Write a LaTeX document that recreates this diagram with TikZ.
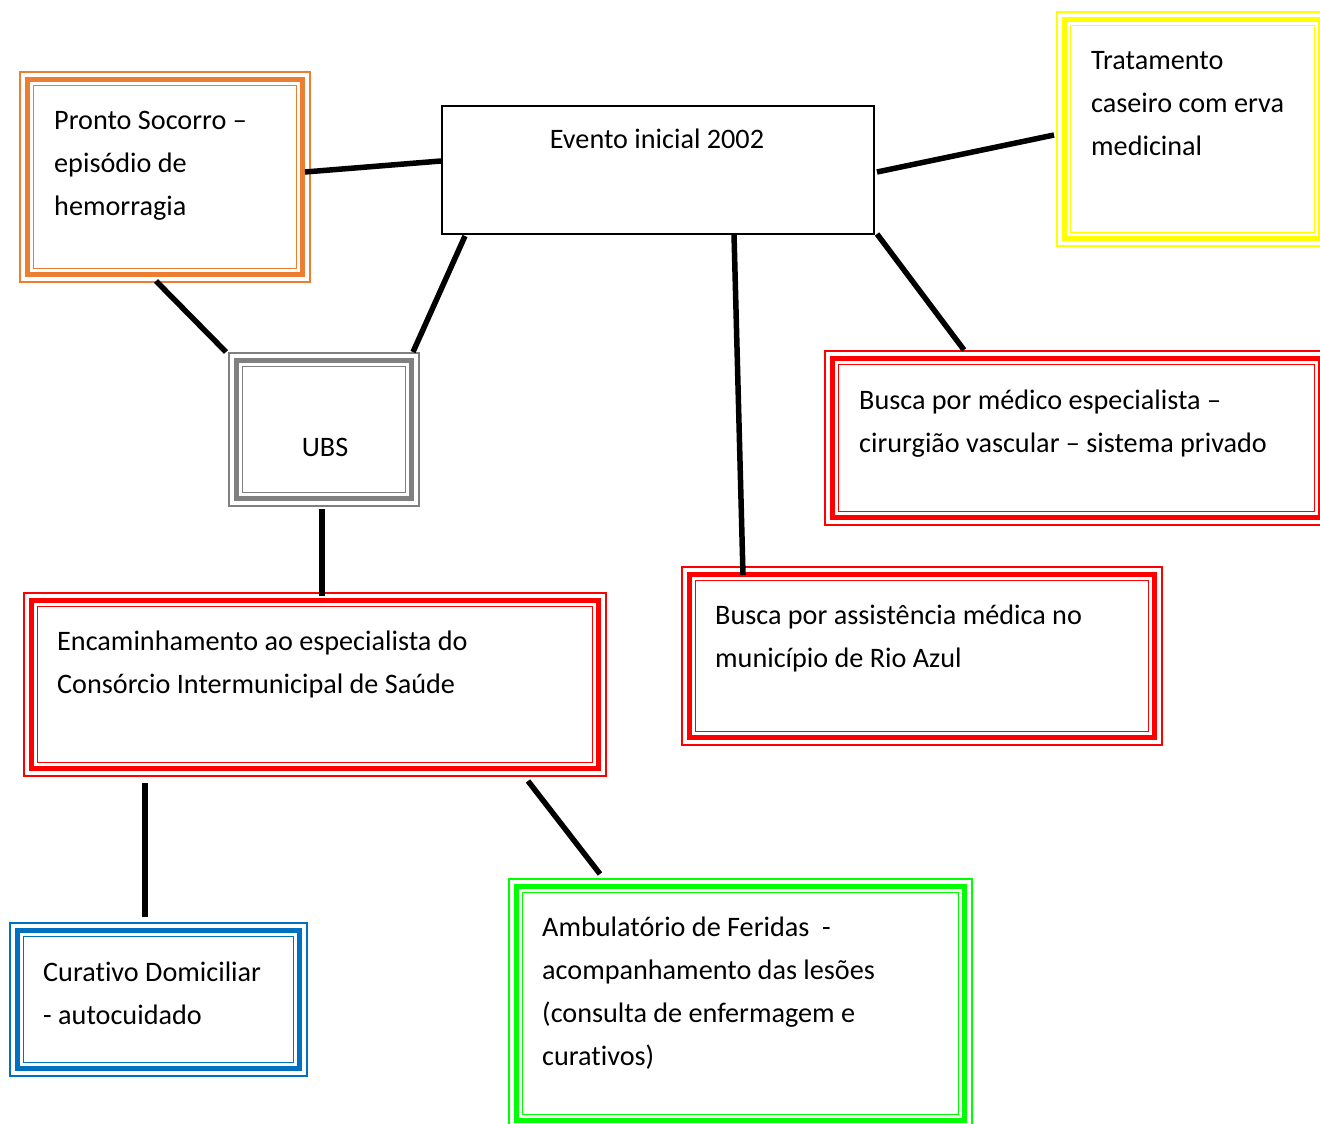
\documentclass[tikz,border=0pt]{standalone}
\usepackage{fontspec}
\setmainfont{Carlito}[Ligatures=NoCommon]
\usetikzlibrary{calc}
\definecolor{cOrange}{HTML}{ED7D31}
\definecolor{cGray}{HTML}{808080}
\definecolor{cYellow}{HTML}{FFFF00}
\definecolor{cRed}{HTML}{FF0000}
\definecolor{cBlue}{HTML}{0070C0}
\definecolor{cGreen}{HTML}{00FF00}
\newcommand\triframe[2]{%
  \draw[#2, line width=5pt] ($(#1.north west)+(7.5,7.5)$) rectangle ($(#1.south east)+(-7.5,-7.5)$);
  \draw[#2, line width=1.6pt] ($(#1.north west)+(13.5,13.5)$) rectangle ($(#1.south east)+(-13.5,-13.5)$);
}
\begin{document}
\begin{tikzpicture}[x=1pt,y=-1pt,
  framebox/.style={draw=#1, line width=2pt, anchor=north west, inner sep=0pt, outer sep=0pt},
  txt/.style={anchor=north west, inner sep=0pt, align=left, font=\fontsize{28.2}{43}\selectfont},
  ctxt/.style={anchor=base, inner sep=0pt, font=\fontsize{28.2}{43}\selectfont},
  link/.style={line width=5.5pt, black}]
\useasboundingbox (0,0) rectangle (1320,1124);
\fill[white] (0,0) rectangle (1320,1124);
\clip (0,0) rectangle (1320,1124);

% boxes
\node[framebox=cOrange, minimum width=290pt, minimum height=210pt] (ps) at (20,72) {};
\triframe{ps}{cOrange}
\node[draw=black, line width=2pt, anchor=north west, inner sep=0pt, minimum width=432pt, minimum height=128pt] (ev) at (441,105) {};
\node[framebox=cYellow, minimum width=271pt, minimum height=234pt] (tr) at (1057,12) {};
\triframe{tr}{cYellow}
\node[framebox=cGray, minimum width=190pt, minimum height=153pt] (ubs) at (229,353) {};
\triframe{ubs}{cGray}
\node[framebox=cRed, minimum width=503pt, minimum height=174pt] (bm) at (825,351) {};
\triframe{bm}{cRed}
\node[framebox=cRed, minimum width=480pt, minimum height=178pt] (ba) at (682,567) {};
\triframe{ba}{cRed}
\node[framebox=cRed, minimum width=582pt, minimum height=183pt] (en) at (24,593) {};
\triframe{en}{cRed}
\node[framebox=cBlue, minimum width=297pt, minimum height=153pt] (cd) at (10,923) {};
\triframe{cd}{cBlue}
\node[framebox=cGreen, minimum width=463pt, minimum height=249pt] (am) at (509,879) {};
\triframe{am}{cGreen}

% texts
\node[txt] (ps-t) at (54,105) {\rule{0pt}{24pt}Pronto Socorro –\\episódio de\\hemorragia};
\node[ctxt] (ev-t) at (657,148) {Evento inicial 2002};
\node[txt] (tr-t) at (1091,45) {\rule{0pt}{24pt}Tratamento\\caseiro com erva\\medicinal};
\node[ctxt] (ubs-t) at (325,456) {UBS};
\node[txt] (bm-t) at (859,385) {\rule{0pt}{24pt}Busca por médico especialista –\\cirurgião vascular – sistema privado};
\node[txt] (ba-t) at (715,600) {\rule{0pt}{24pt}Busca por assistência médica no\\município de Rio Azul};
\node[txt] (en-t) at (57,626) {\rule{0pt}{24pt}Encaminhamento ao especialista do\\Consórcio Intermunicipal de Saúde};
\node[txt] (cd-t) at (43,957) {\rule{0pt}{24pt}Curativo Domiciliar\\- autocuidado};
\node[txt] (am-t) at (542,912) {\rule{0pt}{24pt}Ambulatório de Feridas~~-\\acompanhamento das lesões\\(consulta de enfermagem e\\curativos)};

% connectors
\draw[link] ($(ps.north east)+(-5,100)$) -- ($(ev.north west)+(0,56)$);
\draw[link] ($(ev.north east)+(2,67)$) -- ($(tr.north west)+(-3,123)$);
\draw[link] ($(ps.south west)+(136,-1)$) -- ($(ubs.north west)+(-3,-1)$);
\draw[link] ($(ev.south west)+(24,1)$) -- ($(ubs.north east)+(-6,-1)$);
\draw[link] ($(ev.south west)+(293,-1)$) -- ($(ba.north west)+(61,8)$);
\draw[link] ($(ev.south east)+(2,-1)$) -- ($(bm.north west)+(139,-1)$);
\draw[link] ($(ubs.south west)+(93,3)$) -- ($(en.north west)+(298,3)$);
\draw[link] ($(en.south west)+(121,7)$) -- ($(cd.north west)+(135,-6)$);
\draw[link] ($(en.south west)+(504,5)$) -- ($(am.north west)+(91,-5)$);
\end{tikzpicture}
\end{document}
